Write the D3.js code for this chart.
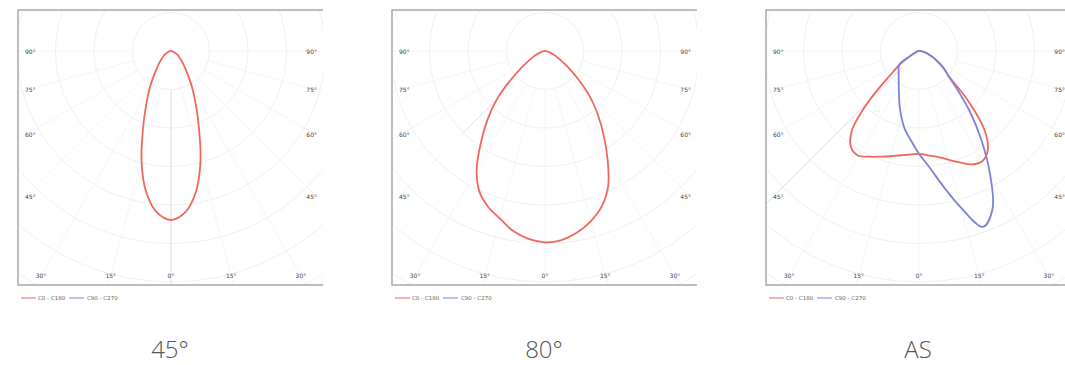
<!DOCTYPE html>
<html><head><meta charset="utf-8">
<script src="https://cdn.jsdelivr.net/npm/d3@7"></script>
<style>body{margin:0;background:#fff;}svg{display:block;}</style>
</head><body>
<svg id="chart" width="1065" height="365"></svg>
<script>
// ---- data ----
const gammaAngles = [0,5,10,15,20,25,30,35,40,45,50,55,60,65,70,75,80,85,90];
const captions = ["45°", "80°", "AS"];
const legendLabels = ["C0 - C180", "C90 - C270"];
const sideTickAngles = [90, 75, 60, 45];
const bottomTickAngles = [-30, -15, 0, 15, 30];
const ringValues = [100, 200, 300, 400, 500, 600, 700, 800];
const spokeAngles = [-90,-75,-60,-45,-30,-15,0,15,30,45,60,75,90];

// 45° optic (cd/klm)
const c0_45   = [439,421,372,296,212,152,110,78,56,42,32,24,18,13,9,6,4,2,0];
const c180_45 = [439,421,372,296,212,152,110,78,56,42,32,24,18,13,9,6,4,2,0];
// 80° optic
const c0_80   = [497,493,479,458,430,388,325,265,212,162,110,72,45,30,18,11,6,2,0];
const c180_80 = [497,490,475,451,431,403,355,290,232,176,115,72,45,30,18,11,6,2,0];
// AS optic
const c0_as   = [267,272,279,292,308,325,330,312,262,175,100,80,59,42,28,20,12,5,0];
const c180_as = [267,270,275,283,292,303,314,307,272,185,97,60,28,15,8,5,3,1,0];
const c90_as  = [267,302,355,421,486,452,369,283,206,140,98,78,57,42,28,20,12,5,0];
const c270_as = [267,234,208,177,148,123,105,92,82,75,69,64,28,15,8,5,3,1,0];

// ---- layout ----
const frameW = 305, frameTop = 10, frameBottom = 285, centerOffX = 153, centerY = 51;
const panelLeft = d3.scaleLinear().domain([0, 2]).range([18, 766]);
const r = d3.scaleLinear().domain([0, 100]).range([0, 38.5]);
const red = "#f0675c", blue = "#7f83d6";

const panels = [
  {caption: captions[0], curves: [{a: c0_45, b: c180_45, color: red}], guide: {angle: 0, r0: 100, r1: 900, color: "#e0e0e0"}},
  {caption: captions[1], curves: [{a: c0_80, b: c180_80, color: red}], guide: {angle: -45, r0: 170, r1: 305, color: "#e4e4e4"}},
  {caption: captions[2], curves: [{a: c0_as, b: c180_as, color: red}, {a: c90_as, b: c270_as, color: blue}], guide: {angle: -45, r0: 60, r1: 900, color: "#dddddd"}}
];

const svg = d3.select("#chart");
const rad = d => d * Math.PI / 180;
const px = (g, v) => r(v) * Math.sin(rad(g));
const py = (g, v) => r(v) * Math.cos(rad(g));

const line = d3.lineRadial()
  .angle(d => Math.PI - rad(d[0]))
  .radius(d => r(d[1]))
  .curve(d3.curveCatmullRomClosed.alpha(0.5));

panels.forEach((p, i) => {
  const left = panelLeft(i);
  const cx = left + centerOffX;
  const g = svg.append("g");
  const clipId = "clip" + i;
  svg.append("clipPath").attr("id", clipId).append("rect")
    .attr("x", left).attr("y", frameTop).attr("width", frameW).attr("height", frameBottom - frameTop);

  const grid = g.append("g").attr("clip-path", `url(#${clipId})`);
  grid.selectAll("circle").data(ringValues).join("circle")
    .attr("cx", cx).attr("cy", centerY).attr("r", d => r(d))
    .attr("fill", "none").attr("stroke", "#f0f0f0").attr("stroke-width", 1);
  grid.selectAll("line.spoke").data(spokeAngles).join("line").attr("class", "spoke")
    .attr("x1", d => cx + px(d, 100)).attr("y1", d => centerY + py(d, 100))
    .attr("x2", d => cx + px(d, 900)).attr("y2", d => centerY + py(d, 900))
    .attr("stroke", "#f5f5f5").attr("stroke-width", 1);
  const gd = p.guide;
  grid.append("line")
    .attr("x1", cx + px(gd.angle, gd.r0)).attr("y1", centerY + py(gd.angle, gd.r0))
    .attr("x2", cx + px(gd.angle, gd.r1)).attr("y2", centerY + py(gd.angle, gd.r1))
    .attr("stroke", gd.color).attr("stroke-width", 1);

  // frame (left, top, bottom)
  g.append("path")
    .attr("d", `M${left + frameW},${frameTop}H${left}V${frameBottom}H${left + frameW}`)
    .attr("fill", "none").attr("stroke", "#a8a8a8").attr("stroke-width", 1.5);

  // curves
  const cg = g.append("g").attr("transform", `translate(${cx},${centerY})`);
  p.curves.forEach(c => {
    const pts = gammaAngles.map((a, k) => [a, c.a[k]])
      .concat(gammaAngles.slice(1, -1).reverse().map(a => [-a, c.b[gammaAngles.indexOf(a)]]));
    cg.append("path").attr("d", line(pts))
      .attr("fill", "none").attr("stroke", c.color).attr("stroke-width", 1.8);
  });

  // angle labels
  const lab = g.append("g").attr("font-family", "'DejaVu Sans', sans-serif").attr("font-size", 6)
    .attr("fill", "#444").attr("dominant-baseline", "middle");
  const inL = left + 7, inR = left + 299, inB = 276;
  sideTickAngles.forEach(a => {
    const y = a === 90 ? centerY + 1 : centerY + (cx - inL) / Math.tan(rad(a));
    lab.append("text").attr("x", inL).attr("y", y).attr("text-anchor", "start").text(a + "°");
    lab.append("text").attr("x", inR).attr("y", y).attr("text-anchor", "end").text(a + "°");
  });
  bottomTickAngles.forEach(a => {
    const x = cx + (inB - centerY) * Math.tan(rad(a));
    lab.append("text").attr("x", x).attr("y", inB).attr("text-anchor", "middle").text(Math.abs(a) + "°");
  });

  // legend
  const lg = g.append("g").attr("transform", `translate(${left + 3},298)`)
    .attr("font-family", "'DejaVu Sans', sans-serif").attr("font-size", 5.5).attr("fill", "#666");
  lg.append("line").attr("x1", 0).attr("x2", 15).attr("stroke", red).attr("stroke-width", 1);
  lg.append("text").attr("x", 17).attr("y", 0).attr("dominant-baseline", "middle").text(legendLabels[0]);
  lg.append("line").attr("x1", 48).attr("x2", 63).attr("stroke", blue).attr("stroke-width", 1);
  lg.append("text").attr("x", 66).attr("y", 0).attr("dominant-baseline", "middle").text(legendLabels[1]);

  // caption
  svg.append("text").attr("x", cx - 1).attr("y", 358).attr("text-anchor", "middle")
    .attr("font-family", "'Open Sans', sans-serif").attr("font-weight", 300)
    .attr("font-size", 24).attr("fill", "#555").text(p.caption);
});
</script>
</body></html>
